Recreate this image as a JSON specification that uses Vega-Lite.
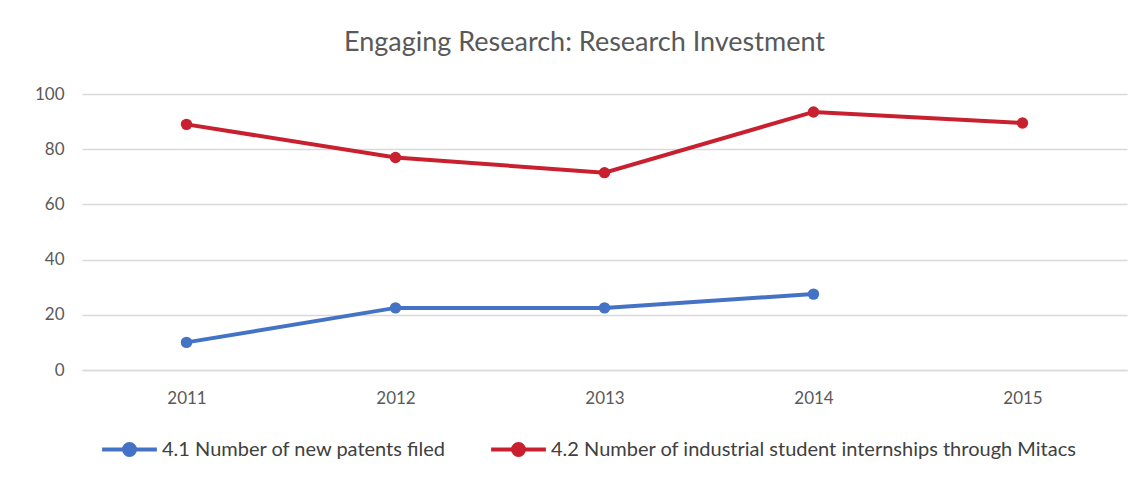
{
  "$schema": "https://vega.github.io/schema/vega-lite/v6.json",
  "width": 1045,
  "height": 276,
  "autosize": {"type": "none"},
  "padding": {"left": 82, "top": 94, "right": 19, "bottom": 110},
  "background": "white",
  "config": {"view": {"stroke": null}},
  "title": {
    "text": "Engaging Research: Research Investment",
    "font": "Lato",
    "fontSize": 27,
    "fontWeight": "normal",
    "color": "#595959",
    "offset": 28,
    "dx": -20
  },
  "data": {
    "values": [
      {"year": "2011", "series": "4.1 Number of new patents filed", "value": 10},
      {"year": "2012", "series": "4.1 Number of new patents filed", "value": 22.5},
      {"year": "2013", "series": "4.1 Number of new patents filed", "value": 22.5},
      {"year": "2014", "series": "4.1 Number of new patents filed", "value": 27.5},
      {"year": "2011", "series": "4.2 Number of industrial student internships through Mitacs", "value": 89},
      {"year": "2012", "series": "4.2 Number of industrial student internships through Mitacs", "value": 77},
      {"year": "2013", "series": "4.2 Number of industrial student internships through Mitacs", "value": 71.5},
      {"year": "2014", "series": "4.2 Number of industrial student internships through Mitacs", "value": 93.5},
      {"year": "2015", "series": "4.2 Number of industrial student internships through Mitacs", "value": 89.5}
    ]
  },
  "mark": {"type": "line", "strokeWidth": 4, "point": {"size": 130, "filled": true, "opacity": 1}},
  "encoding": {
    "x": {
      "field": "year",
      "type": "ordinal",
      "title": null,
      "scale": {"paddingInner": 0, "paddingOuter": 0.5},
      "axis": {
        "labelAngle": 0,
        "labelFont": "Lato",
        "labelFontSize": 17,
        "labelColor": "#595959",
        "labelPadding": 20,
        "ticks": false,
        "domainColor": "#d9d9d9",
        "domainWidth": 1.5,
        "grid": false
      }
    },
    "y": {
      "field": "value",
      "type": "quantitative",
      "title": null,
      "scale": {"domain": [0, 100]},
      "axis": {
        "values": [0, 20, 40, 60, 80, 100],
        "labelFont": "Lato",
        "labelFontSize": 17,
        "labelColor": "#595959",
        "labelPadding": 18,
        "ticks": false,
        "domain": false,
        "gridColor": "#d9d9d9",
        "gridWidth": 1.5
      }
    },
    "color": {
      "field": "series",
      "type": "nominal",
      "scale": {"range": ["#4472C4", "#C8202F"]},
      "legend": {
        "title": null,
        "orient": "none",
        "legendX": 18,
        "legendY": 326,
        "direction": "horizontal",
        "symbolType": "M-1,0H1M-0.2,0A0.2,0.2 0 1,0 0.2,0A0.2,0.2 0 1,0 -0.2,0",
        "symbolSize": 3000,
        "symbolStrokeWidth": 4,
        "labelFont": "Lato",
        "labelFontSize": 20,
        "labelColor": "#404040",
        "labelLimit": 700,
        "labelOffset": 3,
        "columnPadding": 36
      }
    }
  }
}
